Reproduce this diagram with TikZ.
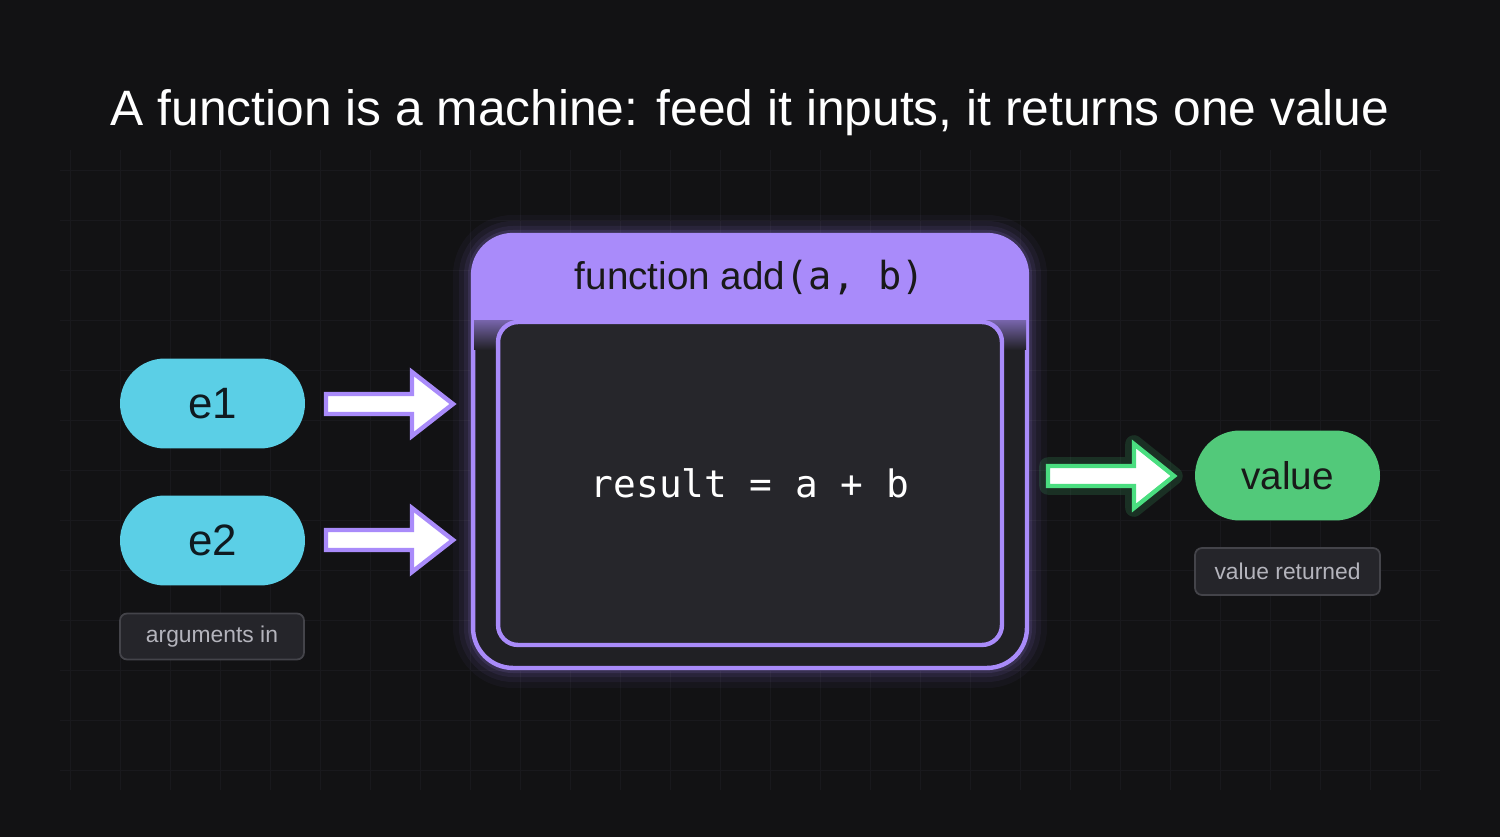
\documentclass[tikz,border=0pt]{standalone}
\usepackage{fontspec}
\setmainfont{Liberation Sans}
\setsansfont{Liberation Sans}
\setmonofont{DejaVu Sans Mono}
\definecolor{bg}{HTML}{121214}
\definecolor{gridc}{HTML}{19191D}
\definecolor{purp}{HTML}{A98BFA}
\definecolor{inner}{HTML}{26262B}
\definecolor{cyanp}{HTML}{5BCFE6}
\definecolor{greenp}{HTML}{52C97A}
\definecolor{greenl}{HTML}{4ADE80}
\definecolor{tagf}{HTML}{25252A}
\definecolor{tagd}{HTML}{44444A}
\definecolor{tagt}{HTML}{B4B4BC}
\definecolor{darkt}{HTML}{0F1A20}
\begin{document}
\begin{tikzpicture}[x=0.02cm,y=-0.02cm,
  pill/.style={rounded corners=0.9cm, minimum width=3.7cm, minimum height=1.8cm, inner sep=0pt, font=\fontsize{25}{28}\selectfont, text=darkt},
  tag/.style={draw=tagd, fill=tagf, line width=1pt, rounded corners=4pt, minimum width=3.68cm, minimum height=0.92cm, inner sep=0pt, text=tagt, font=\fontsize{13}{15}\selectfont},
  blockarrow/.style={line width=2.5pt, fill=white, line join=miter}]
\fill[bg] (0,0) rectangle (1500,837);
\useasboundingbox (0,0) rectangle (1500,837);
\foreach \x in {70,120,...,1450} \draw[gridc, line width=0.5pt] (\x,150) -- (\x,790);
\foreach \y in {170,220,...,780} \draw[gridc, line width=0.5pt] (60,\y) -- (1440,\y);
\node (title) at (750,113) {\fontsize{28.3}{32}\selectfont\color{white}A function is a machine: feed it inputs, it returns one value};
% glow
\foreach \w/\o in {40/0.04,28/0.06,18/0.08,10/0.12}
  \draw[purp, opacity=\o, line width=\w*0.02cm, rounded corners=0.8cm] (473,235) rectangle (1027,668);
\node[draw=purp, line width=2.5pt, rounded corners=0.8cm, fill=inner!70!bg, minimum width=11.08cm, minimum height=8.66cm, inner sep=0pt] (func) at (750,451.5) {};
\begin{scope}
\clip[rounded corners=0.8cm] (474,236) rectangle (1026,667);
\fill[purp] (473,235) rectangle (1027,322);
\shade[top color=purp!60!inner, bottom color=inner!70!bg] (473,321) rectangle (1027,350);
\end{scope}
\node[draw=purp, line width=2.5pt, rounded corners=0.4cm, fill=inner, minimum width=10.08cm, minimum height=6.46cm, inner sep=0pt] (body) at (750,483.5) {};
\node (hdr) at (750,278) {\fontsize{22}{26}\selectfont\color{black!90}function add{\ttfamily(a, b)}};
\node (code) at (750,483) {\ttfamily\fontsize{21.5}{26}\selectfont\color{white}result = a + b};
% pills
\node[pill, fill=cyanp] (e1) at (212.5,403.5) {e1};
\node[pill, fill=cyanp] (e2) at (212.5,540.5) {e2};
\node[tag] (args) at (212,636.5) {arguments in};
\node[pill, fill=greenp, text=black!90, font=\fontsize{22}{26}\selectfont] (val) at (1287.5,475.5) {value};
\node[tag, minimum width=3.7cm, minimum height=0.94cm] (ret) at (1287.5,571.5) {value returned};
% arrows
\foreach \yy in {404,540}{
  \draw[blockarrow, draw=purp] (326,\yy-10) -- (412,\yy-10) -- (412,\yy-32) -- (453,\yy) -- (412,\yy+32) -- (412,\yy+10) -- (326,\yy+10) -- cycle;}
\draw[greenl, opacity=0.15, line width=10pt, line join=round] (1048,466) -- (1134,466) -- (1134,444) -- (1174,476) -- (1134,508) -- (1134,486) -- (1048,486) -- cycle;
\draw[blockarrow, draw=greenl] (1048,466) -- (1134,466) -- (1134,444) -- (1174,476) -- (1134,508) -- (1134,486) -- (1048,486) -- cycle;
\end{tikzpicture}
\end{document}
